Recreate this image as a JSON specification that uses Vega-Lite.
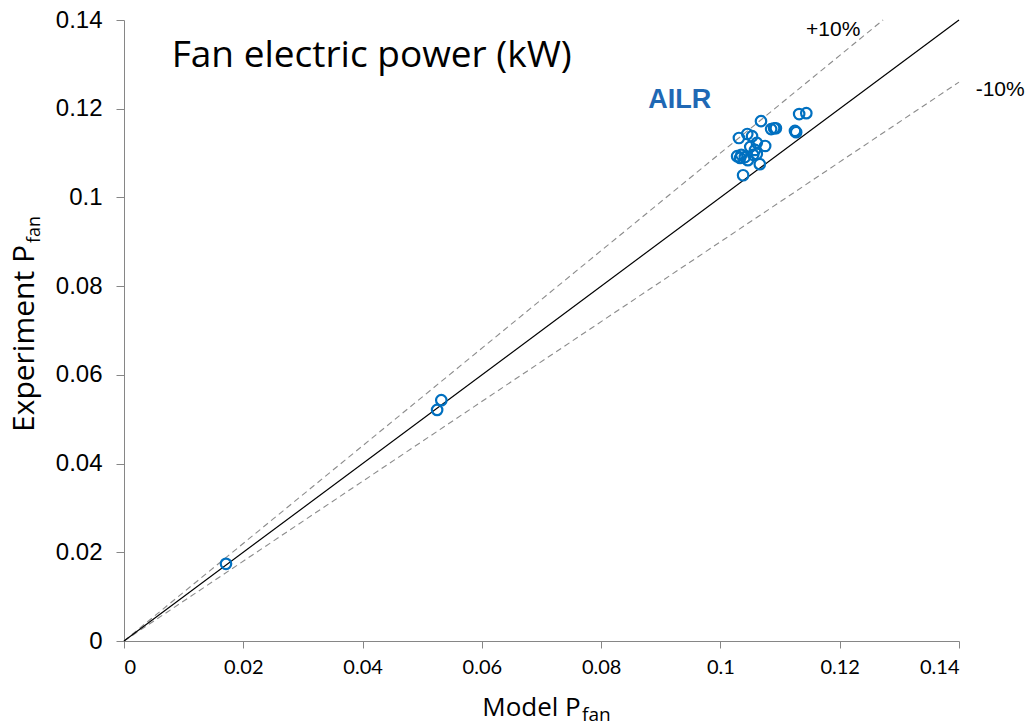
{
  "$schema": "https://vega.github.io/schema/vega-lite/v6.json",
  "width": 835,
  "height": 621,
  "autosize": {"type": "none"},
  "padding": {"left": 124, "top": 20, "right": 74, "bottom": 87},
  "background": "white",
  "config": {"view": {"stroke": null}},
  "datasets": {
    "points": [
      {"model": 0.0171, "exp": 0.0174},
      {"model": 0.0525, "exp": 0.0521},
      {"model": 0.0532, "exp": 0.0543},
      {"model": 0.1068, "exp": 0.1172},
      {"model": 0.1031, "exp": 0.1134},
      {"model": 0.1045, "exp": 0.1143},
      {"model": 0.1053, "exp": 0.1138},
      {"model": 0.1061, "exp": 0.1123},
      {"model": 0.1050, "exp": 0.1114},
      {"model": 0.1075, "exp": 0.1116},
      {"model": 0.1058, "exp": 0.1107},
      {"model": 0.1035, "exp": 0.1096},
      {"model": 0.1033, "exp": 0.1089},
      {"model": 0.1041, "exp": 0.1091},
      {"model": 0.1046, "exp": 0.1084},
      {"model": 0.1055, "exp": 0.1096},
      {"model": 0.1061, "exp": 0.1098},
      {"model": 0.1066, "exp": 0.1075},
      {"model": 0.1038, "exp": 0.1050},
      {"model": 0.1028, "exp": 0.1093},
      {"model": 0.1085, "exp": 0.1154},
      {"model": 0.1090, "exp": 0.1156},
      {"model": 0.1093, "exp": 0.1156},
      {"model": 0.1125, "exp": 0.1150},
      {"model": 0.1127, "exp": 0.1147},
      {"model": 0.1132, "exp": 0.1188},
      {"model": 0.1144, "exp": 0.1190}
    ],
    "lines": [
      {"series": "1:1", "model": 0, "exp": 0},
      {"series": "1:1", "model": 0.14, "exp": 0.14},
      {"series": "+10%", "model": 0, "exp": 0},
      {"series": "+10%", "model": 0.12727, "exp": 0.14},
      {"series": "-10%", "model": 0, "exp": 0},
      {"series": "-10%", "model": 0.14, "exp": 0.126}
    ],
    "labels": [
      {"text": "+10%", "model": 0.1189, "exp": 0.1377},
      {"text": "-10%", "model": 0.1469, "exp": 0.1242}
    ]
  },
  "encoding": {
    "x": {
      "field": "model", "type": "quantitative",
      "scale": {"domain": [0, 0.14], "nice": false, "zero": false},
      "axis": {
        "title": "Model P",
        "values": [0, 0.02, 0.04, 0.06, 0.08, 0.1, 0.12, 0.14],
        "format": "~g",
        "grid": false,
        "domainColor": "#868686", "tickColor": "#868686", "tickSize": 7,
        "labelFont": "Lato", "labelFontSize": 20, "labelColor": "#000000", "labelPadding": 9,
        "titleFont": "Open Sans", "titleFontSize": 26, "titleFontWeight": "normal", "titleColor": "#000000",
        "titleX": 407, "titleY": 74, "titleBaseline": "alphabetic"
      }
    },
    "y": {
      "field": "exp", "type": "quantitative",
      "scale": {"domain": [0, 0.14], "nice": false, "zero": false},
      "axis": {
        "title": "Experiment P",
        "values": [0, 0.02, 0.04, 0.06, 0.08, 0.1, 0.12, 0.14],
        "format": "~g",
        "grid": false,
        "domainColor": "#868686", "tickColor": "#868686", "tickSize": 8,
        "labelFont": "Liberation Sans", "labelFontSize": 24, "labelColor": "#000000", "labelPadding": 14,
        "titleFont": "Open Sans", "titleFontSize": 30, "titleFontWeight": "normal", "titleColor": "#000000",
        "titleX": -91, "titleY": 318, "titleAngle": 270, "titleBaseline": "alphabetic"
      }
    }
  },
  "layer": [
    {
      "data": {"name": "lines"},
      "transform": [{"filter": "datum.series !== '1:1'"}],
      "mark": {"type": "line", "color": "#8C8C8C", "strokeWidth": 1.1, "strokeDash": [6, 4], "clip": false},
      "encoding": {"detail": {"field": "series"}}
    },
    {
      "data": {"name": "lines"},
      "transform": [{"filter": "datum.series === '1:1'"}],
      "mark": {"type": "line", "color": "#000000", "strokeWidth": 1.2},
      "encoding": {}
    },
    {
      "data": {"name": "points"},
      "mark": {"type": "point", "shape": "circle", "filled": false, "color": "#0070C0", "strokeWidth": 2.2, "size": 110, "opacity": 1}
    },
    {
      "data": {"name": "labels"},
      "mark": {"type": "text", "font": "Liberation Sans", "fontSize": 21, "color": "#000000", "align": "center", "baseline": "middle", "clip": false},
      "encoding": {"text": {"field": "text"}}
    },
    {
      "data": {"values": [{"text": "AILR", "model": 0.0932, "exp": 0.1220}]},
      "mark": {"type": "text", "font": "Liberation Sans", "fontSize": 27, "fontWeight": "bold", "color": "#1F68B4", "align": "center", "baseline": "middle"},
      "encoding": {"text": {"field": "text"}}
    },
    {
      "data": {"values": [{"text": "Fan electric power (kW)", "model": 0.0080, "exp": 0.1294}]},
      "mark": {"type": "text", "font": "Open Sans", "fontSize": 37, "color": "#000000", "align": "left", "baseline": "alphabetic"},
      "encoding": {"text": {"field": "text"}}
    },
    {
      "data": {"values": [{"text": "fan", "model": 0.0768, "exp": -0.0180}]},
      "mark": {"type": "text", "font": "Open Sans", "fontSize": 19, "color": "#000000", "align": "left", "baseline": "alphabetic", "clip": false},
      "encoding": {"text": {"field": "text"}}
    },
    {
      "data": {"values": [{"text": "fan", "model": -0.01408, "exp": 0.0897}]},
      "mark": {"type": "text", "font": "Open Sans", "fontSize": 18, "color": "#000000", "angle": 270, "align": "left", "baseline": "alphabetic", "clip": false},
      "encoding": {"text": {"field": "text"}}
    }
  ]
}
